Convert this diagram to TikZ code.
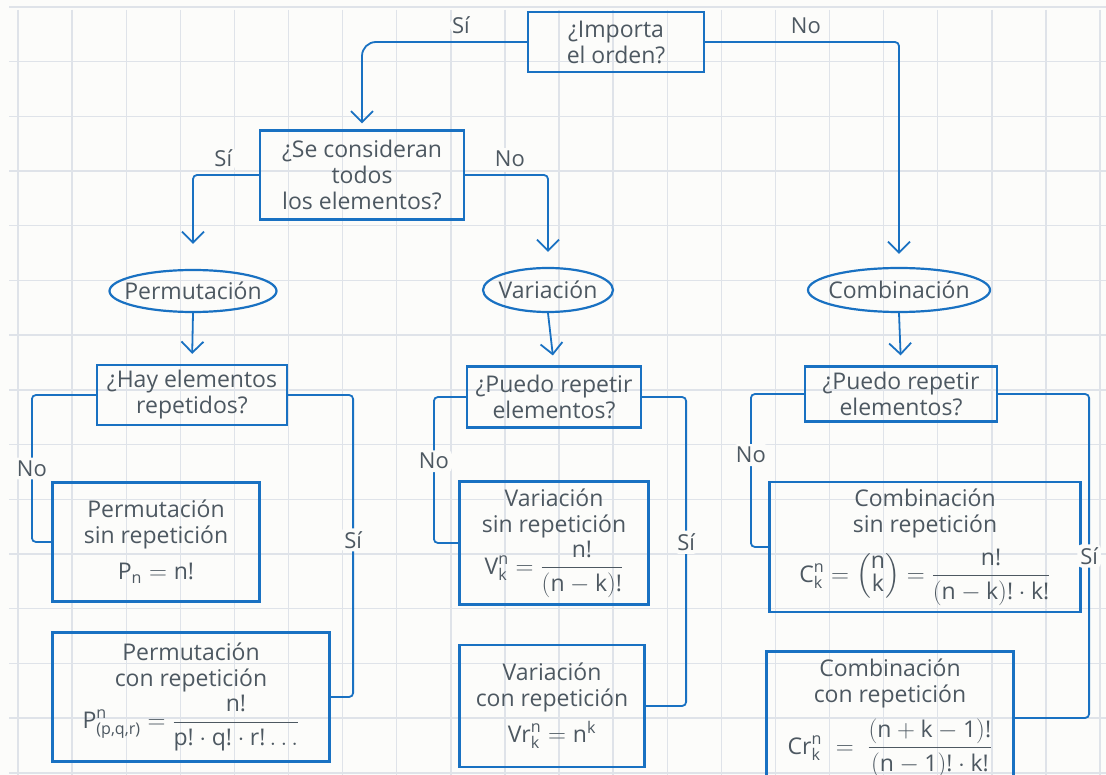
\documentclass[tikz,border=0pt]{standalone}
\usepackage{amsmath}
\usepackage{fontspec}
\setmainfont{Open Sans}
\usetikzlibrary{positioning,arrows.meta,shapes.geometric}

\definecolor{ink}{HTML}{1971C2}
\definecolor{pencil}{HTML}{4D5861}
\definecolor{paper}{HTML}{FCFCFA}
\definecolor{gridline}{HTML}{DFE3E9}

\newcommand{\tx}[1]{\text{#1}}
\newcommand{\bico}[2]{\left(\renewcommand{\arraystretch}{0.8}\begin{array}{@{}c@{}}\text{#1}\\\text{#2}\end{array}\right)}

\begin{document}
\begin{tikzpicture}[x=1pt, y=-1pt,
  >={Straight Barb[length=11pt,width=22pt]},
  every node/.style={text=pencil, font=\fontsize{23}{26}\selectfont},
  question/.style={draw=ink, line width=2.2pt, align=center, inner sep=0pt},
  result/.style={draw=ink, line width=2.2pt, align=center, inner sep=0pt},
  kind/.style={ellipse, draw=ink, line width=2.2pt, inner xsep=-30pt, inner ysep=-5pt},
  conn/.style={draw=ink, line width=1.8pt, rounded corners=4pt},
  lbl/.style={fill=paper, inner sep=3pt, font=\fontsize{22}{24}\selectfont}
]
  \useasboundingbox (0,0) rectangle (1106,775);
  \fill[paper] (0,0) rectangle (1106,775);
  \foreach \i in {0,...,20}
    \draw[gridline, line width=1.4pt] ({18+54.1*\i},10) -- ({18+54.1*\i},775);
  \foreach \j in {0,...,14}
    \draw[gridline, line width=1.4pt] (9,{7+54.7*\j}) -- (1106,{7+54.7*\j});

  % preguntas
  \node[question, minimum width=176pt, minimum height=60pt] (orden) at (616,42) {¿Importa\\el orden?};
  \node[question, minimum width=204pt, minimum height=89pt] (todos) at (362,175) {¿Se consideran\\todos\\los elementos?};
  \node[question, minimum width=190pt, minimum height=60pt] (rephay) at (192,395) {¿Hay elementos\\repetidos?};
  \node[question, minimum width=174pt, minimum height=61pt] (repvar) at (554,397) {¿Puedo repetir\\elementos?};
  \node[question, minimum width=192pt, minimum height=55pt] (repcomb) at (901,394) {¿Puedo repetir\\elementos?};

  % tipos
  \node[kind, minimum width=167pt, minimum height=42pt] (perm) at (193,291) {Permutación};
  \node[kind, minimum width=130pt, minimum height=44pt] (var) at (548,290) {Variación};
  \node[kind, minimum width=182pt, minimum height=44pt] (comb) at (899,290) {Combinación};

  % formulas
  \node[result, minimum width=207pt, minimum height=119pt] (permsin) at (156,542)
    {Permutación\\sin repetición\\[10pt]$\tx{P}_{\tx{n}}=\tx{n!}$};
  \node[result, minimum width=277pt, minimum height=129pt] (permcon) at (191,697)
    {Permutación\\con repetición\\[2pt]$\tx{P}^{\tx{n}}_{\tx{(p,q,r)}}=\dfrac{\tx{n!}}{\tx{p!}\cdot\tx{q!}\cdot\tx{r!}\ldots}$};
  \node[result, minimum width=189pt, minimum height=123pt] (varsin) at (554,543)
    {Variación\\sin repetición\\[2pt]$\tx{V}^{\tx{n}}_{\tx{k}}=\dfrac{\tx{n!}}{(\tx{n}-\tx{k})\tx{!}}$};
  \node[result, minimum width=185pt, minimum height=122pt] (varcon) at (552,706)
    {Variación\\con repetición\\[8pt]$\tx{Vr}^{\tx{n}}_{\tx{k}}=\tx{n}^{\tx{k}}$};
  \node[result, minimum width=311pt, minimum height=130pt] (combsin) at (925,547)
    {Combinación\\sin repetición\\[10pt]$\tx{C}^{\tx{n}}_{\tx{k}}=\bico{n}{k}=\dfrac{\tx{n!}}{(\tx{n}-\tx{k})\tx{!}\cdot\tx{k!}}$};
  \node[result, minimum width=247pt, minimum height=133pt] (combcon) at (890,718)
    {Combinación\\con repetición\\[10pt]$\tx{Cr}^{\tx{n}}_{\tx{k}}\;=\;\dfrac{(\tx{n}+\tx{k}-\tx{1})\tx{!}}{(\tx{n}-\tx{1})\tx{!}\cdot\tx{k!}}$};

  \draw[conn, ->, rounded corners=14pt, shorten >=6pt] (orden.west) -| node[lbl, pos=0.2, above=4pt] {Sí} (todos.north);
  \draw[conn, ->, shorten >=13pt] (orden.east) -| node[lbl, pos=0.26, above=4pt] {No} (comb.north);
  \draw[conn, ->, shorten >=25pt] (todos.west) -| node[lbl, pos=0.27, above=4pt] {Sí} (perm.north);
  \draw[conn, ->, shorten >=15pt] (todos.east) -| node[lbl, pos=0.27, above=4pt] {No} (var.north);

  \draw[conn, ->, shorten >=10pt] (perm.south) -- (rephay.north);
  \draw[conn, ->, shorten >=10pt] (var.south) -- (repvar.north);
  \draw[conn, ->, shorten >=10pt] (comb.south) -- (repcomb.north);

  \draw[conn] (rephay.west) -- ++(-64,0) |- node[lbl, pos=0.25] {No} (permsin.west);
  \draw[conn] (rephay.east) -- ++(65,0) |- node[lbl, pos=0.24] {Sí} (permcon.east);
  \draw[conn] (repvar.west) -- ++(-32,0) |- node[lbl, pos=0.22] {No} (varsin.west);
  \draw[conn] (repvar.east) -- ++(44,0) |- node[lbl, pos=0.235] {Sí} (varcon.east);
  \draw[conn] (repcomb.west) -- ++(-53,0) |- node[lbl, pos=0.2] {No} (combsin.west);
  \draw[conn] (repcomb.east) -- ++(91,0) |- node[lbl, pos=0.25] {Sí} (combcon.east);
\end{tikzpicture}
\end{document}
